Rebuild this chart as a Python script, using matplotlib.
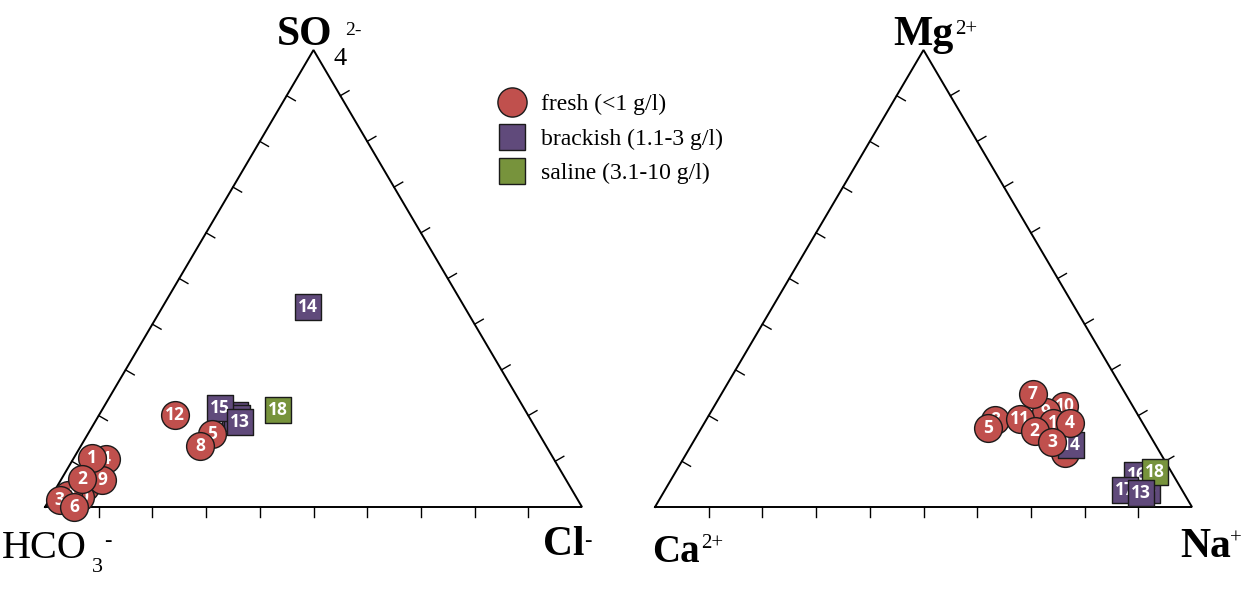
import numpy as np
import matplotlib
matplotlib.use("Agg")
import matplotlib.pyplot as plt
from matplotlib.lines import Line2D

# sample numbers and water type
samples = [1, 2, 3, 4, 5, 6, 7, 8, 9, 10, 11, 12, 13, 14, 15, 16, 17, 18]
groups = ['fresh'] * 12 + ['brackish'] * 5 + ['saline']

# anions, % of meq (HCO3 is the rest)
so4 = [10.7, 6.1, 1.5, 10.5, 16.0, 0.0, 4.4, 13.3, 5.9, 2.2, 2.6, 20.1,
       18.6, 43.8, 21.7, 20.1, 19.5, 21.2]
cl = [3.4, 3.8, 2.0, 6.1, 23.1, 5.4, 5.2, 22.2, 7.7, 5.4, 3.0, 14.2,
      27.0, 27.1, 21.7, 25.3, 26.0, 32.8]

# cations, % of meq (Ca is the rest)
mg = [18.4, 16.6, 14.2, 18.4, 17.3, 11.8, 24.7, 19.0, 20.8, 22.1, 19.3, 17.9,
      3.1, 13.6, 3.7, 7.0, 3.7, 7.7]
na = [64.9, 62.4, 66.8, 68.0, 53.4, 70.4, 58.0, 53.8, 62.4, 65.2, 58.3, 63.3,
      89.0, 70.6, 89.8, 86.3, 85.6, 89.3]

# order in which markers are stacked (last on top)
left_order = [16, 17, 15, 13, 14, 18, 4, 7, 10, 11, 3, 9, 1, 2, 6, 12, 5, 8]
right_order = [12, 8, 5, 10, 9, 7, 11, 1, 2, 6, 14, 4, 3, 15, 16, 18, 17, 13]

styles = {
    'fresh': dict(marker='o', color='#C0504D', s=400, label='fresh (<1 g/l)'),
    'brackish': dict(marker='s', color='#604A7B', s=350, label='brackish (1.1-3 g/l)'),
    'saline': dict(marker='s', color='#77933C', s=350, label='saline (3.1-10 g/l)'),
}

H = 457 / 537          # triangle height (base = 1)
X_RIGHT = 610 / 537    # offset of the cation triangle
PX = 1 / 537           # one pixel in data units

fig = plt.figure(figsize=(12.54, 6.0), dpi=100)
ax = fig.add_axes([0, 0, 1, 1])
ax.set_xlim(-45 * PX, 1209 * PX)
ax.set_ylim(-93 * PX, 507 * PX)
ax.axis('off')


def to_xy(right, top, x0):
    right = np.asarray(right) / 100
    top = np.asarray(top) / 100
    return x0 + right + top / 2, top * H


def draw_triangle(x0):
    ax.plot([x0, x0 + 1, x0 + 0.5, x0], [0, 0, H, 0], color='black', lw=1.4,
            solid_joinstyle='miter', zorder=1)
    tl = 10 * PX
    for k in range(1, 10):
        f = k / 10
        # base ticks, pointing down
        ax.plot([x0 + f, x0 + f], [0, -tl], color='black', lw=1, zorder=1)
        # left edge ticks, inward
        lx, ly = x0 + f / 2, f * H
        ax.plot([lx, lx + tl * np.cos(np.radians(-30))],
                [ly, ly + tl * np.sin(np.radians(-30))], color='black', lw=1, zorder=1)
        # right edge ticks, outward
        rx, ry = x0 + 1 - f / 2, f * H
        ax.plot([rx, rx + tl * np.cos(np.radians(30))],
                [ry, ry + tl * np.sin(np.radians(30))], color='black', lw=1, zorder=1)


def draw_points(right, top, x0, order):
    xs, ys = to_xy(right, top, x0)
    for z, n in enumerate(order):
        i = samples.index(n)
        st = styles[groups[i]]
        ax.scatter(xs[i], ys[i], marker=st['marker'], s=st['s'], c=st['color'],
                   edgecolors='#1a1a1a', linewidths=1, zorder=10 + 2 * z)
        ax.text(xs[i], ys[i], str(n), color='white', fontsize=12.5, fontweight='bold',
                family='Open Sans', ha='center', va='center', zorder=11 + 2 * z)


def label(x, y, s, size=30, weight='normal'):
    # x, y: left end of the baseline, in pixels from the top-left corner
    ax.text((x - 45) * PX, (507 - y) * PX, s, family='Liberation Serif',
            fontsize=size, fontweight=weight, ha='left', va='baseline')


draw_triangle(0)
draw_triangle(X_RIGHT)
draw_points(cl, so4, 0, left_order)
draw_points(na, mg, X_RIGHT, right_order)

# corner labels
label(277, 45, 'SO', weight='bold')
label(333, 65, '4', size=19)
label(345, 35, '2-', size=14)
label(2, 558, 'HCO', size=29)
label(92, 572, '3', size=16)
label(104, 546, '-', size=16)
label(543, 555, 'Cl', weight='bold')
label(584, 546, '-', size=16)
label(893, 45, 'Mg', weight='bold')
label(955, 34, '2+', size=15)
label(652, 562, 'Ca', size=28, weight='bold')
label(701, 548, '2+', size=15)
label(1180, 557, 'Na', weight='bold')
label(1230, 544, '+', size=15)

handles = [Line2D([], [], linestyle='none', marker=styles[g]['marker'],
                  markerfacecolor=styles[g]['color'], markeredgecolor='#1a1a1a',
                  markersize=21 if g == 'fresh' else 19, label=styles[g]['label'])
           for g in ['fresh', 'brackish', 'saline']]
fig.legend(handles=handles, loc='upper left', bbox_to_anchor=(477 / 1254, 1 - 82 / 600),
           frameon=False, prop={'family': 'Liberation Serif', 'size': 17},
           labelspacing=0.55, handletextpad=0.2, borderpad=0)

fig.savefig('out.png', dpi=100)
